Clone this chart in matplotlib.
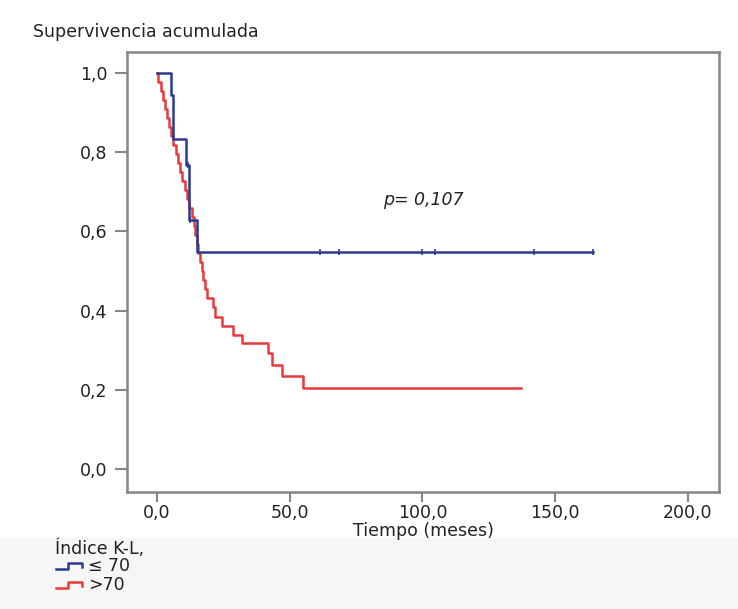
import matplotlib
matplotlib.use("Agg")
import matplotlib.pyplot as plt
from matplotlib.lines import Line2D
from matplotlib.patches import Rectangle

# Kaplan-Meier curves (months, cumulative survival)
blue_t = [0, 5.3, 6.0, 10.9, 12.1, 15.1, 164.2]
blue_s = [1.0, 0.944, 0.833, 0.768, 0.629, 0.548, 0.548]
blue_cens_t = [11.6, 12.6, 61.4, 68.5, 99.8, 104.7, 142.0, 164.2]
blue_cens_s = [0.768, 0.629, 0.548, 0.548, 0.548, 0.548, 0.548, 0.548]

red_t = [0, 0.5, 1.5, 2.3, 3.0, 3.8, 4.6, 5.4, 6.2, 7.0, 7.8, 8.7, 9.5,
         10.4, 11.3, 12.2, 13.0, 13.8, 14.5, 15.0, 15.5, 16.3, 17.0, 17.5,
         18.0, 18.7, 21.0, 21.8, 24.4, 28.7, 31.9, 41.9, 43.2, 47.0, 55.1,
         137.1]
red_s = [1.0, 0.977, 0.955, 0.932, 0.909, 0.886, 0.864, 0.841, 0.818, 0.795,
         0.773, 0.750, 0.727, 0.705, 0.682, 0.659, 0.636, 0.614, 0.591, 0.568,
         0.545, 0.523, 0.500, 0.477, 0.455, 0.431, 0.408, 0.385, 0.362, 0.338,
         0.317, 0.292, 0.263, 0.235, 0.205, 0.205]

x_ticks = [0, 50, 100, 150, 200]
x_labels = ["0,0", "50,0", "100,0", "150,0", "200,0"]
y_ticks = [0.0, 0.2, 0.4, 0.6, 0.8, 1.0]
y_labels = ["0,0", "0,2", "0,4", "0,6", "0,8", "1,0"]

BLUE = "#2b3a8f"
RED = "#e8393c"
GRAY = "#858585"
TXT = "#222222"
FS = 12.5
W, H = 738, 609


def px(x, y):
    # figure pixel (from top-left) -> figure fraction
    return x / W, 1 - y / H


fig = plt.figure(figsize=(W / 100, H / 100), dpi=100)
fig.patches.append(Rectangle((0, 0), 1, 1 - 538 / H, transform=fig.transFigure,
                             color="#f6f6f6", zorder=-1))

ax = fig.add_axes([127 / W, 1 - 492 / H, (719 - 127) / W, (492 - 52) / H])
ax.step(red_t, red_s, where="post", color=RED, lw=1.8)
ax.step(blue_t, blue_s, where="post", color=BLUE, lw=1.8)
ax.plot(blue_cens_t, blue_cens_s, ls="none", marker="|", ms=5, mew=1.2, color=BLUE)

ax.set_xlim(-11.3, 211.7)
ax.set_ylim(-0.058, 1.053)
ax.set_xticks(x_ticks)
ax.set_xticklabels(x_labels)
ax.set_yticks(y_ticks)
ax.set_yticklabels(y_labels)
ax.tick_params(axis="y", direction="out", length=9, width=1.5, color=GRAY,
               labelsize=FS, labelcolor=TXT, pad=5)
ax.tick_params(axis="x", direction="out", length=7, width=1.5, color=GRAY,
               labelsize=FS, labelcolor=TXT, pad=2)
for sp in ax.spines.values():
    sp.set_color(GRAY)
    sp.set_linewidth(1.8)

ax.set_xlabel("Tiempo (meses)", fontsize=FS, color=TXT, labelpad=0)
ax.text(85, 0.679, "p= 0,107", fontsize=FS, style="italic", color=TXT, va="center")

fig.text(*px(33, 32), "Supervivencia acumulada", fontsize=FS, color=TXT,
         va="center", ha="left")

# legend at the bottom left
fig.text(*px(55, 549), "Índice K-L,", fontsize=FS, color=TXT, va="center")
for yy, col, lab in [(566, BLUE, "≤ 70"), (585, RED, ">70")]:
    xs = [56, 68, 68, 82, 82]
    ys = [yy + 3, yy + 3, yy - 3, yy - 3, yy + 1]
    fx = [x / W for x in xs]
    fy = [1 - y / H for y in ys]
    fig.add_artist(Line2D(fx, fy, color=col, lw=1.8, transform=fig.transFigure))
    fig.text(*px(88, yy), lab, fontsize=FS, color=TXT, va="center")

fig.savefig("out.png", dpi=100, facecolor="white")
